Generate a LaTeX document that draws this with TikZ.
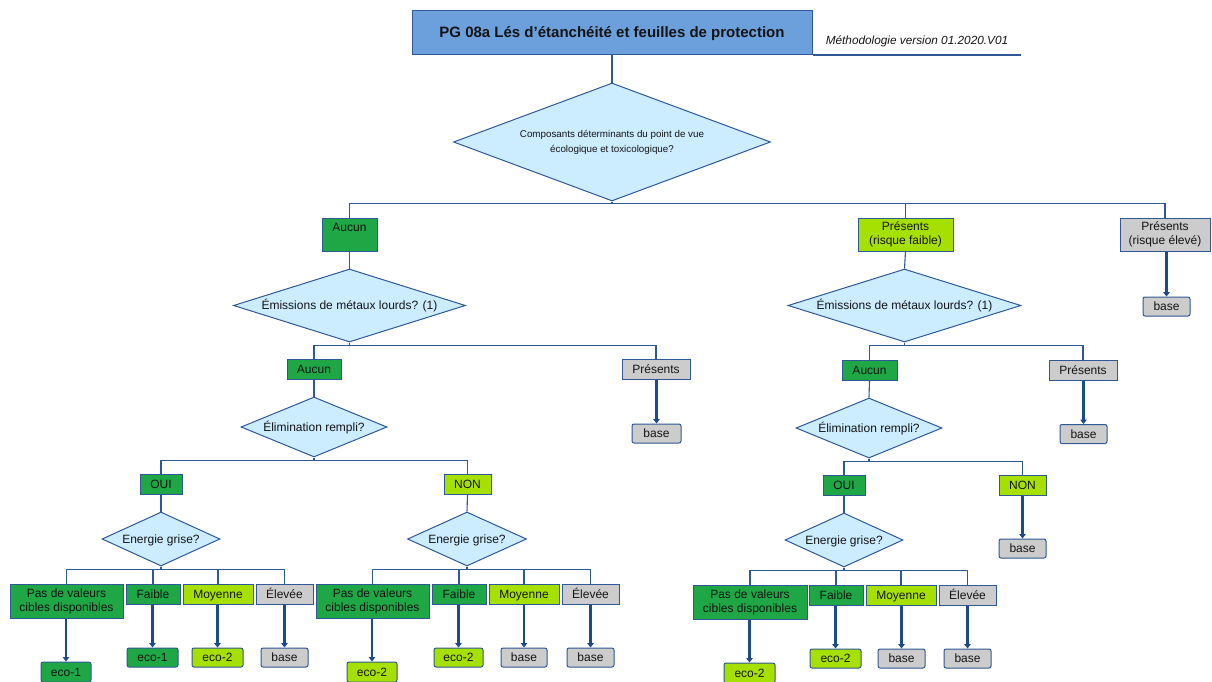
\documentclass[tikz,border=0pt]{standalone}
\usepackage{fontspec}
\setmainfont{Liberation Sans}
\usetikzlibrary{shapes.geometric,arrows.meta}
\definecolor{lblue}{RGB}{47,88,150}
\definecolor{ablue}{RGB}{28,74,140}
\definecolor{dgreen}{RGB}{31,166,69}
\definecolor{lime}{RGB}{166,224,0}
\definecolor{lgray}{RGB}{204,204,204}
\definecolor{dfill}{RGB}{204,236,255}
\definecolor{tfill}{RGB}{108,160,220}
\definecolor{txt}{RGB}{20,20,20}
\tikzset{
  base/.style={draw=lblue, line width=1pt, inner sep=0pt, align=center, text=txt, font=\fontsize{12}{14}\selectfont, text height=8.6pt, text depth=0pt},
  multi/.style={text height={}, text depth={}},
  gbox/.style={base, fill=dgreen},
  lbox/.style={base, fill=lime},
  ybox/.style={base, fill=lgray},
  gout/.style={gbox, rounded corners=2pt},
  lout/.style={lbox, rounded corners=2pt},
  yout/.style={ybox, rounded corners=2pt},
  dia/.style={base, shape=diamond, fill=dfill},
  conn/.style={draw=lblue, line width=1.1pt},
  arr/.style={draw=ablue, line width=2.4pt, -{Triangle[length=4.5pt,width=6.5pt]}},
}
\begin{document}
\begin{tikzpicture}[x=1pt,y=-1pt]
\useasboundingbox (0,0) rectangle (1212,681);
% title
\node[base, fill=tfill, minimum width=400, minimum height=44, font=\fontsize{15}{17}\bfseries, text height=10.8pt] (title) at (612,32.5) {PG 08a Lés d’étanchéité et feuilles de protection};
\node[font=\fontsize{11.8}{13}\itshape, text=txt, inner sep=0pt] (meth) at (917,41) {Méthodologie version 01.2020.V01};
\coordinate (methend) at (1021,55);
\draw[conn] (title.south east) -- (methend);
% level 1
\node[dia, multi, aspect=2.69, minimum width=317, minimum height=118, font=\fontsize{9.8}{15}\selectfont] (d1) at (612,142) {Composants déterminants du point de vue\\écologique et toxicologique?};
\draw[conn] (title.south) -- (d1.north);
\node[gbox, multi, minimum width=55, minimum height=33] (a1) at (349.5,234.5) {Aucun\\\phantom{A}};
\node[lbox, multi, minimum width=95, minimum height=33] (pf) at (905.5,234.5) {Présents\\(risque faible)};
\node[ybox, multi, minimum width=90, minimum height=33] (pe) at (1165,234.5) {Présents\\(risque élevé)};
\node[yout, minimum width=47, minimum height=19] (bpe) at (1166.5,306.5) {base};
\foreach \n in {a1,pf,pe} \draw[conn] (d1.south) -- ++(0,2) -| (\n.north);
\draw[arr] (pe.south -| bpe.north) -- (bpe.north);
% ---------- left branch
\node[dia, aspect=3.18, minimum width=232, minimum height=73] (d2L) at (349.5,305.5) {Émissions de métaux lourds? (1)};
\draw[conn] (a1.south) -- (d2L.north);
\node[gbox, minimum width=54, minimum height=20] (a2L) at (314,369) {Aucun};
\node[ybox, minimum width=68, minimum height=20] (pL) at (656,369) {Présents};
\node[yout, minimum width=49, minimum height=19] (bpL) at (656.5,433.5) {base};
\foreach \n in {a2L,pL} \draw[conn] (d2L.south) -- ++(0,3) -| (\n.north);
\draw[arr] (pL.south -| bpL.north) -- (bpL.north);
\node[dia, aspect=2.43, minimum width=146, minimum height=60] (d3L) at (314,427) {Élimination rempli?};
\draw[conn] (a2L.south) -- (d3L.north);
\node[gbox, minimum width=42, minimum height=20] (ouiL) at (161,484) {OUI};
\node[lbox, minimum width=47, minimum height=20] (nonL) at (467.5,484) {NON};
\foreach \n in {ouiL,nonL} \draw[conn] (d3L.south) -- ++(0,3) -| (\n.north);
% OUI left
\node[dia, aspect=2.19, minimum width=118, minimum height=54] (d4L) at (161,539) {Energie grise?};
\draw[conn] (ouiL.south) -- (d4L.north);
\node[gbox, multi, minimum width=113, minimum height=34] (pasL) at (66.5,601) {Pas de valeurs\\cibles disponibles};
\node[gbox, minimum width=54, minimum height=20] (faiL) at (153,594) {Faible};
\node[lbox, minimum width=70, minimum height=20] (moyL) at (218,594) {Moyenne};
\node[ybox, minimum width=57, minimum height=20] (eleL) at (284.5,594) {Élevée};
\foreach \n in {pasL,faiL,moyL,eleL} \draw[conn] (d4L.south) -- ++(0,3) -| (\n.north);
\node[gout, minimum width=50, minimum height=20] (opasL) at (66,672) {eco-1};
\node[gout, minimum width=51, minimum height=19] (ofaiL) at (152.5,657.5) {eco-1};
\node[lout, minimum width=51, minimum height=19] (omoyL) at (217.5,657.5) {eco-2};
\node[yout, minimum width=47, minimum height=19] (oeleL) at (284.5,657.5) {base};
\draw[arr] (pasL.south -| opasL.north) -- (opasL.north);
\draw[arr] (faiL.south -| ofaiL.north) -- (ofaiL.north);
\draw[arr] (moyL.south -| omoyL.north) -- (omoyL.north);
\draw[arr] (eleL.south -| oeleL.north) -- (oeleL.north);
% NON left
\node[dia, aspect=2.2, minimum width=119, minimum height=54] (d4M) at (467,539) {Energie grise?};
\draw[conn] (nonL.south) -- (d4M.north);
\node[gbox, multi, minimum width=113, minimum height=34] (pasM) at (372.5,601) {Pas de valeurs\\cibles disponibles};
\node[gbox, minimum width=54, minimum height=20] (faiM) at (459,594) {Faible};
\node[lbox, minimum width=70, minimum height=20] (moyM) at (524,594) {Moyenne};
\node[ybox, minimum width=57, minimum height=20] (eleM) at (590.5,594) {Élevée};
\foreach \n in {pasM,faiM,moyM,eleM} \draw[conn] (d4M.south) -- ++(0,3) -| (\n.north);
\node[lout, minimum width=50, minimum height=20] (opasM) at (372,672) {eco-2};
\node[lout, minimum width=49, minimum height=19] (ofaiM) at (458.5,657.5) {eco-2};
\node[yout, minimum width=46, minimum height=19] (omoyM) at (524,657.5) {base};
\node[yout, minimum width=47, minimum height=19] (oeleM) at (590.5,657.5) {base};
\draw[arr] (pasM.south -| opasM.north) -- (opasM.north);
\draw[arr] (faiM.south -| ofaiM.north) -- (ofaiM.north);
\draw[arr] (moyM.south -| omoyM.north) -- (omoyM.north);
\draw[arr] (eleM.south -| oeleM.north) -- (oeleM.north);
% ---------- right branch
\node[dia, aspect=3.19, minimum width=233, minimum height=73] (d2R) at (904.5,305.5) {Émissions de métaux lourds? (1)};
\draw[conn] (pf.south) -- (d2R.north);
\node[gbox, minimum width=55, minimum height=20] (a2R) at (869.5,370) {Aucun};
\node[ybox, minimum width=68, minimum height=20] (pR) at (1083,370) {Présents};
\node[yout, minimum width=47, minimum height=19] (bpR) at (1083.5,434) {base};
\foreach \n in {a2R,pR} \draw[conn] (d2R.south) -- ++(0,3) -| (\n.north);
\draw[arr] (pR.south -| bpR.north) -- (bpR.north);
\node[dia, aspect=2.43, minimum width=146, minimum height=60] (d3R) at (869,428) {Élimination rempli?};
\draw[conn] (a2R.south) -- (d3R.north);
\node[gbox, minimum width=42, minimum height=20] (ouiR) at (844,485) {OUI};
\node[lbox, minimum width=47, minimum height=20] (nonR) at (1022.5,485) {NON};
\node[yout, minimum width=47, minimum height=19] (bnR) at (1022.5,548.5) {base};
\foreach \n in {ouiR,nonR} \draw[conn] (d3R.south) -- ++(0,3) -| (\n.north);
\draw[arr] (nonR.south -| bnR.north) -- (bnR.north);
\node[dia, aspect=2.19, minimum width=118, minimum height=54] (d4R) at (844,540) {Energie grise?};
\draw[conn] (ouiR.south) -- (d4R.north);
\node[gbox, multi, minimum width=114, minimum height=34] (pasR) at (750,602) {Pas de valeurs\\cibles disponibles};
\node[gbox, minimum width=54, minimum height=20] (faiR) at (836,595) {Faible};
\node[lbox, minimum width=70, minimum height=20] (moyR) at (901,595) {Moyenne};
\node[ybox, minimum width=57, minimum height=20] (eleR) at (967.5,595) {Élevée};
\foreach \n in {pasR,faiR,moyR,eleR} \draw[conn] (d4R.south) -- ++(0,3) -| (\n.north);
\node[lout, minimum width=51, minimum height=20] (opasR) at (749.5,673) {eco-2};
\node[lout, minimum width=51, minimum height=19] (ofaiR) at (835.5,658.5) {eco-2};
\node[yout, minimum width=47, minimum height=19] (omoyR) at (901.5,658.5) {base};
\node[yout, minimum width=47, minimum height=19] (oeleR) at (967.5,658.5) {base};
\draw[arr] (pasR.south -| opasR.north) -- (opasR.north);
\draw[arr] (faiR.south -| ofaiR.north) -- (ofaiR.north);
\draw[arr] (moyR.south -| omoyR.north) -- (omoyR.north);
\draw[arr] (eleR.south -| oeleR.north) -- (oeleR.north);
\end{tikzpicture}
\end{document}
